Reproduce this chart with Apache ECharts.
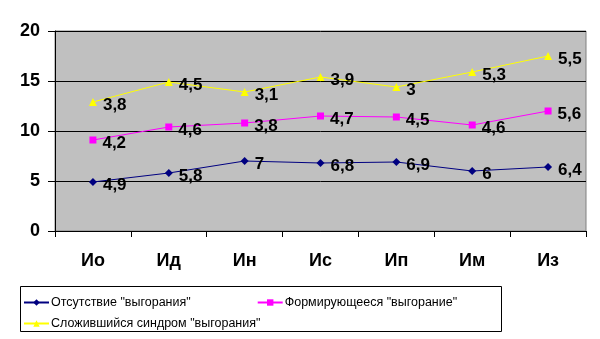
<!DOCTYPE html>
<html><head><meta charset="utf-8">
<script src="https://cdn.jsdelivr.net/npm/echarts@6/dist/echarts.min.js"></script>
<style>html,body{margin:0;padding:0;background:#fff}#c{width:600px;height:339px}</style>
</head><body><div id="c"></div>
<script>
const categories = ['Ио','Ид','Ин','Ис','Ип','Им','Из'];
const seriesNames = ['Отсутствие "выгорания"','Формирующееся "выгорание"','Сложившийся синдром "выгорания"'];
const absent = [4.9,5.8,7,6.8,6.9,6,6.4];
const forming = [4.2,4.6,3.8,4.7,4.5,4.6,5.6];
const formed = [3.8,4.5,3.1,3.9,3,5.3,5.5];
const yTicks = {min:0,max:20,interval:5};

const chart = echarts.init(document.getElementById('c'));
const FF = 'Liberation Sans, Arial';
const lbl = {show:true,position:'right',offset:[1,3],color:'#000',fontFamily:FF,fontWeight:'bold',fontSize:17,
  formatter:p=>String(p.value).replace('.',',')};
function mk(name,data,color,symbol,size){
  return {name,type:'line',stack:'s',data,symbol,symbolSize:size,
    lineStyle:{color,width:1},itemStyle:{color},label:lbl,animation:false};
}
const legendText = {fontFamily:FF,fontSize:12.5,color:'#000',padding:[0,0,0,-3]};
chart.setOption({
  animation:false,
  grid:{left:55,right:14,top:31,bottom:108,show:true,backgroundColor:'#C0C0C0',borderColor:'#808080',borderWidth:1},
  xAxis:{type:'category',data:categories,boundaryGap:true,
    axisLine:{lineStyle:{color:'#000',width:1}},
    axisTick:{show:true,length:6,lineStyle:{color:'#000'},alignWithLabel:false},
    axisLabel:{color:'#000',fontFamily:FF,fontWeight:'bold',fontSize:18,margin:21}},
  yAxis:{type:'value',min:yTicks.min,max:yTicks.max,interval:yTicks.interval,
    axisLine:{show:true,lineStyle:{color:'#000'}},
    axisTick:{show:true,length:7,lineStyle:{color:'#000'}},
    splitLine:{lineStyle:{color:'#000',width:1}},
    axisLabel:{color:'#000',fontFamily:FF,fontWeight:'bold',fontSize:18,margin:15}},
  legend:[
    {left:18,top:291,itemGap:66,itemWidth:25,itemHeight:8,textStyle:legendText,data:seriesNames.slice(0,2)},
    {left:18,top:312,itemWidth:25,itemHeight:8,textStyle:legendText,data:seriesNames.slice(2)}
  ],
  graphic:[{type:'rect',shape:{x:20.5,y:286.5,width:481,height:45},style:{fill:'none',stroke:'#000',lineWidth:1},silent:true}],
  series:[
    mk(seriesNames[0],absent,'#000080','diamond',8),
    mk(seriesNames[1],forming,'#FF00FF','rect',7),
    mk(seriesNames[2],formed,'#FFFF00','triangle',8)
  ]
});
</script></body></html>
